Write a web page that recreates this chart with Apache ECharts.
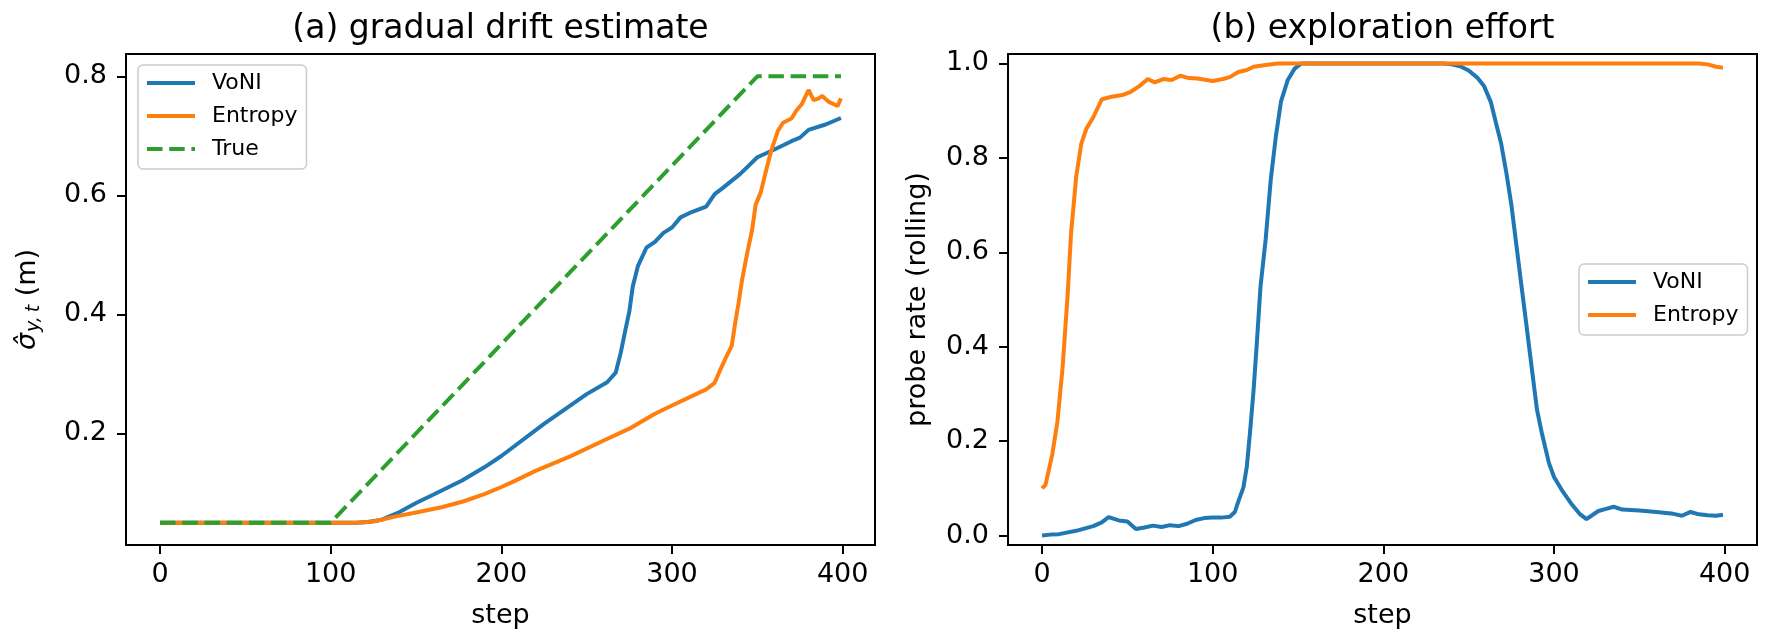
<!DOCTYPE html>
<html>
<head>
<meta charset="utf-8">
<script src="https://cdn.jsdelivr.net/npm/echarts@6/dist/echarts.min.js"></script>
<style>
  html, body { margin: 0; padding: 0; background: #fff; }
  #main { width: 1770px; height: 642px; }
</style>
</head>
<body>
<div id="main"></div>
<script>
// panel (a) gradual drift estimate
var trueX = [0, 100, 350, 399];
var trueY = [0.05, 0.05, 0.8, 0.8];

var voniAX = [0, 115, 122, 130, 139, 150, 160, 177, 190, 200, 225, 250, 262, 267, 270, 273, 275, 277, 280, 285, 290, 295, 300, 305, 310, 320, 325, 330, 340, 345, 350, 360, 370, 375, 380, 390, 399];
var voniAY = [0.05, 0.05, 0.051, 0.055, 0.066, 0.083, 0.097, 0.121, 0.143, 0.162, 0.216, 0.266, 0.286, 0.302, 0.336, 0.378, 0.405, 0.447, 0.481, 0.512, 0.522, 0.537, 0.546, 0.563, 0.57, 0.581, 0.602, 0.613, 0.636, 0.65, 0.664, 0.677, 0.691, 0.697, 0.71, 0.719, 0.73];

var entAX = [0, 115, 125, 139, 150, 165, 178, 190, 200, 207, 220, 240, 260, 275, 290, 300, 320, 325, 328, 332, 335, 337, 339, 341, 344, 347, 349, 352, 355, 358, 362, 365, 370, 373, 376, 380, 383, 386, 388, 392, 397, 399];
var entAY = [0.05, 0.05, 0.052, 0.061, 0.067, 0.076, 0.086, 0.098, 0.110, 0.119, 0.137, 0.161, 0.188, 0.208, 0.233, 0.247, 0.274, 0.285, 0.305, 0.33, 0.347, 0.385, 0.419, 0.457, 0.502, 0.543, 0.584, 0.605, 0.64, 0.674, 0.708, 0.722, 0.729, 0.743, 0.753, 0.777, 0.76, 0.763, 0.767, 0.757, 0.75, 0.763];

// panel (b) exploration effort
var voniBX = [0, 5, 10, 20, 30, 35, 39, 45, 50, 55, 60, 65, 70, 75, 80, 85, 90, 95, 100, 105, 110, 113, 115, 118, 120, 122, 124, 126, 128, 131, 134, 137, 140, 144, 148, 152, 235, 240, 245, 250, 255, 259, 263, 266, 269, 272, 275, 278, 281, 284, 287, 290, 293, 297, 300, 305, 310, 315, 319, 322, 326, 330, 335, 340, 350, 360, 370, 375, 380, 385, 390, 395, 399];
var voniBY = [0.0, 0.002, 0.003, 0.01, 0.02, 0.028, 0.039, 0.032, 0.03, 0.014, 0.017, 0.021, 0.018, 0.022, 0.02, 0.025, 0.033, 0.037, 0.038, 0.038, 0.04, 0.05, 0.072, 0.102, 0.146, 0.224, 0.31, 0.415, 0.527, 0.626, 0.753, 0.845, 0.919, 0.965, 0.989, 1.0, 1.0, 0.998, 0.994, 0.985, 0.97, 0.952, 0.918, 0.874, 0.831, 0.77, 0.701, 0.614, 0.527, 0.441, 0.354, 0.267, 0.215, 0.154, 0.124, 0.094, 0.068, 0.046, 0.035, 0.042, 0.052, 0.056, 0.061, 0.055, 0.053, 0.05, 0.046, 0.042, 0.05, 0.045, 0.043, 0.042, 0.044];

var entBX = [0, 2, 6, 9, 12, 15, 17, 20, 23, 26, 30, 35, 40, 47, 52, 57, 62, 66, 71, 76, 81, 86, 91, 100, 106, 110, 115, 120, 124, 130, 138, 385, 390, 395, 399];
var entBY = [0.1, 0.107, 0.172, 0.241, 0.354, 0.51, 0.64, 0.76, 0.83, 0.862, 0.886, 0.924, 0.929, 0.933, 0.94, 0.952, 0.967, 0.96, 0.967, 0.965, 0.974, 0.969, 0.968, 0.963, 0.967, 0.971, 0.982, 0.986, 0.993, 0.996, 1.0, 1.0, 0.998, 0.993, 0.991];

var xTicks = [0, 100, 200, 300, 400];
var yTicksA = [0.2, 0.4, 0.6, 0.8];
var yTicksB = [0.0, 0.2, 0.4, 0.6, 0.8, 1.0];

var BLUE = '#1f77b4', ORANGE = '#ff7f0e', GREEN = '#2ca02c';
var FONT = 'DejaVu Sans';

function pairs(xs, ys) {
    return xs.map(function (x, i) { return [x, ys[i]]; });
}

var chart = echarts.init(document.getElementById('main'));

function xAxisOf(grid) {
    return {
        type: 'value', gridIndex: grid,
        min: -19.95, max: 418.95,
        name: 'step', nameLocation: 'middle', nameGap: 57,
        nameTextStyle: { fontFamily: FONT, fontSize: 27, color: '#000' },
        axisLine: { show: false, onZero: false },
        splitLine: { show: false },
        axisTick: { show: true, length: 9, lineStyle: { color: '#000', width: 2 }, customValues: xTicks },
        axisLabel: { fontFamily: FONT, fontSize: 27, color: '#000', margin: 16, customValues: xTicks }
    };
}

function legendAt(left, top, names) {
    return {
        orient: 'vertical', left: left, top: top,
        data: names,
        itemWidth: 48, itemHeight: 22, itemGap: 11,
        padding: [7, 9, 9, 7],
        borderColor: '#cccccc', borderWidth: 1.5, borderRadius: 5,
        backgroundColor: 'rgba(255,255,255,0.8)',
        selectedMode: false,
        itemStyle: { opacity: 0 },
        lineStyle: { width: 4 },
        textStyle: { fontFamily: FONT, fontSize: 22, color: '#000', padding: [0, 0, 0, 12] }
    };
}

var option = {
    animation: false,
    backgroundColor: '#fff',
    grid: [
        { left: 126, top: 54, width: 749, height: 491, show: true, borderColor: '#000', borderWidth: 2, backgroundColor: 'transparent' },
        { left: 1008, top: 54, width: 749, height: 491, show: true, borderColor: '#000', borderWidth: 2, backgroundColor: 'transparent' }
    ],
    graphic: [
        { type: 'text', x: 500.5, y: 29, style: { text: '(a) gradual drift estimate', fontFamily: FONT, fontSize: 33, fill: '#000', align: 'center', verticalAlign: 'middle' } },
        { type: 'text', x: 1382.5, y: 29, style: { text: '(b) exploration effort', fontFamily: FONT, fontSize: 33, fill: '#000', align: 'center', verticalAlign: 'middle' } }
    ],
    xAxis: [xAxisOf(0), xAxisOf(1)],
    yAxis: [
        {
            type: 'value', gridIndex: 0, min: 0.0125, max: 0.8375,
            name: '{s|σ̂}{sub|y,\u2009t}{n| (m)}', nameLocation: 'middle', nameGap: 82, nameRotate: 90,
            nameTextStyle: {
                color: '#000',
                rich: {
                    s: { fontFamily: FONT, fontSize: 27, fontStyle: 'italic', color: '#000' },
                    sub: { fontFamily: FONT, fontSize: 19, fontStyle: 'italic', color: '#000', padding: [14, 0, 0, 1] },
                    n: { fontFamily: FONT, fontSize: 27, color: '#000' }
                }
            },
            axisLine: { show: false, onZero: false },
            splitLine: { show: false },
            axisTick: { show: true, length: 9, lineStyle: { color: '#000', width: 2 }, customValues: yTicksA },
            axisLabel: { fontFamily: FONT, fontSize: 27, color: '#000', margin: 19, customValues: yTicksA,
                formatter: function (v) { return v.toFixed(1); } }
        },
        {
            type: 'value', gridIndex: 1, min: -0.02, max: 1.02,
            name: 'probe rate (rolling)', nameLocation: 'middle', nameGap: 77, nameRotate: 90,
            nameTextStyle: { fontFamily: FONT, fontSize: 27, color: '#000' },
            axisLine: { show: false, onZero: false },
            splitLine: { show: false },
            axisTick: { show: true, length: 9, lineStyle: { color: '#000', width: 2 }, customValues: yTicksB },
            axisLabel: { fontFamily: FONT, fontSize: 27, color: '#000', margin: 19, customValues: yTicksB,
                formatter: function (v) { return v.toFixed(1); } }
        }
    ],
    legend: [
        legendAt(138, 65, ['VoNI', 'Entropy', 'True']),
        legendAt(1579, 264, ['VoNI', 'Entropy'])
    ],
    series: [
        { name: 'VoNI', type: 'line', xAxisIndex: 0, yAxisIndex: 0, symbol: 'none', data: pairs(voniAX, voniAY),
          itemStyle: { color: BLUE }, lineStyle: { color: BLUE, width: 4 } },
        { name: 'Entropy', type: 'line', xAxisIndex: 0, yAxisIndex: 0, symbol: 'none', data: pairs(entAX, entAY),
          itemStyle: { color: ORANGE }, lineStyle: { color: ORANGE, width: 4 } },
        { name: 'True', type: 'line', xAxisIndex: 0, yAxisIndex: 0, symbol: 'none', data: pairs(trueX, trueY),
          itemStyle: { color: GREEN }, lineStyle: { color: GREEN, width: 4, type: [15.5, 6.7] } },
        { name: 'VoNI', type: 'line', xAxisIndex: 1, yAxisIndex: 1, symbol: 'none', data: pairs(voniBX, voniBY),
          itemStyle: { color: BLUE }, lineStyle: { color: BLUE, width: 4 } },
        { name: 'Entropy', type: 'line', xAxisIndex: 1, yAxisIndex: 1, symbol: 'none', data: pairs(entBX, entBY),
          itemStyle: { color: ORANGE }, lineStyle: { color: ORANGE, width: 4 } }
    ]
};

chart.setOption(option);
</script>
</body>
</html>
